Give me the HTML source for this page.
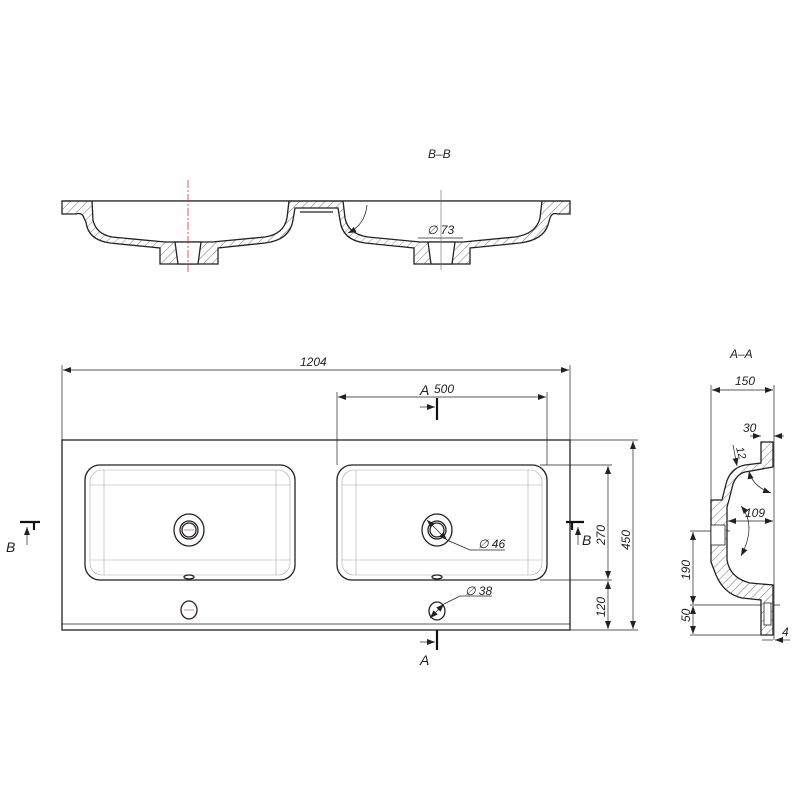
<!DOCTYPE html>
<html><head><meta charset="utf-8"><style>
html,body{margin:0;padding:0;background:#fff;width:800px;height:800px;overflow:hidden}
text{font-family:"Liberation Sans",sans-serif;font-style:italic;fill:#222}
</style></head><body>
<svg width="800" height="800" viewBox="0 0 800 800" xmlns="http://www.w3.org/2000/svg">
<defs>
<pattern id="h" width="6" height="6" patternUnits="userSpaceOnUse" patternTransform="rotate(45)">
<rect width="6" height="6" fill="#fff"/><line x1="0" y1="0" x2="0" y2="6" stroke="#555" stroke-width="0.8"/></pattern>
<marker id="a" markerWidth="8" markerHeight="6" refX="8" refY="3" orient="auto-start-reverse" markerUnits="userSpaceOnUse"><path d="M0,0L8,3L0,6z" fill="#222"/></marker>
</defs>
<g fill="none" stroke="#222" stroke-width="1.3">
<text x="428" y="158" font-size="12" stroke="none">B–B</text>
<path d="M62,201 L570,201 L570,214 L558,214 Q552,212 550,218 L548,225 Q543,240 520,243 L470,248 L470,264 L414,264 L414,248 L365,243 Q342,240 340,220 L338,208 L295,208 L293,220 Q290,240 265,243 L218,248 L218,264 L160,264 L160,248 L110,243 Q88,240 86,222 L84,218 Q82,212 76,214 L62,214 Z" fill="url(#h)"/>
<path d="M92,201 L93,220 Q96,234 112,237 L165,242 L183,242 L196,242 L212,242 L265,237 Q284,234 287,218 L289,201" fill="#fff"/>
<path d="M343,201 L345,218 Q348,234 368,237 L420,242 L463,242 L515,237 Q536,234 540,218 L542,201" fill="#fff"/>
<path d="M175,242 L178,264 L198,264 L201,242 Z M428,242 L431,264 L452,264 L455,242 Z" fill="#fff"/>
<path d="M300,212 L333,212" />
<line x1="62" y1="201" x2="570" y2="201"/>
<path d="M367,205 Q365,225 348,233" stroke-width="0.8" marker-end="url(#a)"/>
<line x1="418" y1="238" x2="463" y2="238" stroke-width="0.8"/>
<text x="427" y="234" font-size="12" stroke="none">∅ 73</text>
</g>
<line x1="188" y1="180" x2="188" y2="272" stroke="#d33" stroke-width="0.8" stroke-dasharray="8,2,2,2"/>
<line x1="441" y1="190" x2="441" y2="270" stroke="#666" stroke-width="0.6"/>

<g fill="none" stroke="#222" stroke-width="1.3">
<rect x="62" y="440" width="508" height="190"/>
<line x1="62" y1="624" x2="570" y2="624" stroke-width="0.8"/>
<rect x="85" y="465" width="210" height="115" rx="15"/>
<rect x="337" y="465" width="210" height="115" rx="15"/>
<g stroke="#aaa" stroke-width="0.6">
<rect x="90" y="470" width="200" height="105" rx="12"/>
<rect x="342" y="470" width="200" height="105" rx="12"/>
<line x1="104" y1="470" x2="104" y2="575"/><line x1="276" y1="470" x2="276" y2="575"/>
<line x1="356" y1="470" x2="356" y2="575"/><line x1="528" y1="470" x2="528" y2="575"/>
<line x1="90" y1="485" x2="290" y2="485"/><line x1="90" y1="560" x2="290" y2="560"/>
<line x1="342" y1="485" x2="542" y2="485"/><line x1="342" y1="560" x2="542" y2="560"/>
</g>
<ellipse cx="189" cy="530" rx="15" ry="16"/><circle cx="189" cy="530" r="9"/><circle cx="189" cy="530" r="7"/>
<ellipse cx="437" cy="530" rx="15" ry="16"/><circle cx="437" cy="530" r="9"/><circle cx="437" cy="530" r="7"/>
<ellipse cx="189" cy="577" rx="5" ry="2"/><ellipse cx="437" cy="577" rx="5" ry="2"/>
<ellipse cx="189" cy="610" rx="8" ry="9"/><ellipse cx="437" cy="611" rx="8" ry="9"/>
</g>
<g stroke="#d33" stroke-width="0.6"><line x1="184" y1="530" x2="194" y2="530"/><line x1="184" y1="610" x2="194" y2="610"/></g>
<g fill="none" stroke="#222" stroke-width="0.7">
<line x1="62" y1="365" x2="62" y2="440"/><line x1="570" y1="365" x2="570" y2="440"/>
<line x1="63" y1="370" x2="569" y2="370" marker-start="url(#a)" marker-end="url(#a)"/>
<line x1="337" y1="392" x2="337" y2="465"/><line x1="547" y1="392" x2="547" y2="465"/>
<line x1="338" y1="397" x2="546" y2="397" marker-start="url(#a)" marker-end="url(#a)"/>
<line x1="570" y1="440" x2="638" y2="440"/><line x1="570" y1="630" x2="638" y2="630"/>
<line x1="540" y1="465" x2="612" y2="465"/><line x1="540" y1="580" x2="612" y2="580"/>
<line x1="633" y1="441" x2="633" y2="629" marker-start="url(#a)" marker-end="url(#a)"/>
<line x1="608" y1="466" x2="608" y2="579" marker-start="url(#a)" marker-end="url(#a)"/>
<line x1="608" y1="581" x2="608" y2="629" marker-start="url(#a)" marker-end="url(#a)"/>
<line x1="427" y1="520" x2="447" y2="540" marker-start="url(#a)" marker-end="url(#a)"/>
<polyline points="447,540 470,550 505,550"/>
<line x1="430" y1="618" x2="444" y2="604" marker-start="url(#a)" marker-end="url(#a)"/>
<polyline points="444,604 460,596 492,596"/>
<line x1="420" y1="407" x2="435" y2="407" marker-end="url(#a)"/>
<line x1="420" y1="642" x2="435" y2="642" marker-end="url(#a)"/>
<line x1="27" y1="545" x2="27" y2="527" marker-end="url(#a)"/>
<line x1="578" y1="545" x2="578" y2="527" marker-end="url(#a)"/>
</g>
<g stroke="#111" stroke-width="2.2">
<line x1="437" y1="398" x2="437" y2="420"/><line x1="437" y1="630" x2="437" y2="650"/>
<line x1="20" y1="522" x2="40" y2="522"/><line x1="34" y1="522" x2="34" y2="530"/>
<line x1="566" y1="522" x2="584" y2="522"/><line x1="572" y1="522" x2="572" y2="530"/>
</g>
<text x="300" y="366" font-size="12">1204</text>
<text x="420" y="395" font-size="14">A</text><text x="434" y="393" font-size="12">500</text>
<text x="420" y="665" font-size="14">A</text>
<text x="6" y="552" font-size="14">B</text>
<text x="582" y="545" font-size="14">B</text>
<text x="478" y="548" font-size="12">∅ 46</text>
<text x="465" y="595" font-size="12">∅ 38</text>
<text transform="translate(605,545) rotate(-90)" font-size="12">270</text>
<text transform="translate(630,550) rotate(-90)" font-size="12">450</text>
<text transform="translate(605,617) rotate(-90)" font-size="12">120</text>

<text x="730" y="358" font-size="12">A–A</text>
<g fill="none" stroke="#222" stroke-width="0.7">
<line x1="711" y1="385" x2="711" y2="505"/>
<line x1="774" y1="385" x2="774" y2="640"/>
<line x1="712" y1="390" x2="773" y2="390" marker-start="url(#a)" marker-end="url(#a)"/>
<text x="735" y="385" font-size="12" stroke="none">150</text>
<line x1="750" y1="436" x2="761" y2="436" marker-end="url(#a)"/><line x1="784" y1="436" x2="774" y2="436" marker-end="url(#a)"/>
<text x="743" y="432" font-size="12" stroke="none">30</text>
<line x1="733" y1="445" x2="737" y2="466" marker-end="url(#a)"/>
<text transform="translate(736,448) rotate(75)" font-size="11" stroke="none">12</text>
<path d="M749,471 Q752,486 771,493" marker-start="url(#a)" marker-end="url(#a)"/>
<path d="M741,506 Q757,525 741,556" marker-start="url(#a)" marker-end="url(#a)"/>
<line x1="728" y1="521" x2="773" y2="521" marker-start="url(#a)" marker-end="url(#a)"/>
<text x="745" y="517" font-size="12" stroke="none">109</text>
<line x1="690" y1="531" x2="730" y2="531"/>
<line x1="690" y1="605" x2="780" y2="605"/>
<line x1="690" y1="635" x2="770" y2="635"/>
<line x1="693" y1="532" x2="693" y2="604" marker-start="url(#a)" marker-end="url(#a)"/>
<line x1="693" y1="606" x2="693" y2="634" marker-start="url(#a)" marker-end="url(#a)"/>
<line x1="762" y1="640" x2="773" y2="640"/><line x1="790" y1="640" x2="775" y2="640" marker-end="url(#a)"/>
</g>
<text transform="translate(690,580) rotate(-90)" font-size="12">190</text>
<text transform="translate(690,622) rotate(-90)" font-size="12">50</text>
<text x="782" y="636" font-size="12">4</text>
<path d="M761,442 L773,442 L773,467 L745,472 Q737,474 733,484 L729,500 L727,507 L727,560 Q730,578 750,583 L773,585 L773,635 L761,635 L761,600 L742,598 Q724,594 716,575 L711,562 L711,500 L722,500 L726,484 Q730,468 745,465 L761,463 Z" fill="url(#h)" stroke="#222" stroke-width="1.3"/>
<rect x="711" y="525" width="14" height="20" fill="#fff" stroke="#222" stroke-width="0.8"/>
<rect x="764" y="603" width="7" height="22" fill="#fff" stroke="#222" stroke-width="0.8"/>
</svg>
</body></html>
